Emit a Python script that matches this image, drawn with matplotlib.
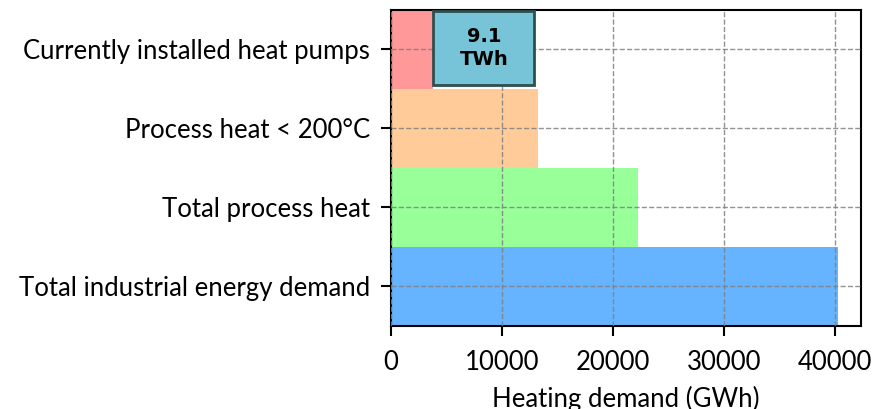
import matplotlib
matplotlib.use("Agg")
import matplotlib.pyplot as plt

# heating demand per category, GWh
categories = ["Total industrial energy demand", "Total process heat",
              "Process heat < 200°C", "Currently installed heat pumps"]
demand_gwh = [40300, 22200, 13270, 3800]
bar_colors = ["#66b3ff", "#99ff99", "#ffcc99", "#ff9999"]

# additional heat pump potential on top of the installed base
potential_gwh = 9100

plt.rcParams["font.family"] = ["Lato", "DejaVu Sans"]

fig = plt.figure(figsize=(8.73, 4.09), dpi=100)
ax = fig.add_axes([0.448, 0.203, 0.538, 0.7726])

ypos = range(len(categories))
ax.barh(ypos, demand_gwh, height=1.0, color=bar_colors, zorder=1)

# potential box next to the installed heat pumps
top = len(categories) - 1
ax.barh(top + 0.02, potential_gwh, left=demand_gwh[top], height=0.94,
        color="#77c4d8", edgecolor="#2f4f4f", linewidth=2, zorder=3)
ax.text(demand_gwh[top] + potential_gwh / 2, top + 0.02,
        f"{potential_gwh / 1000:.1f}\nTWh", ha="center", va="center",
        fontsize=14, fontweight="bold", family="DejaVu Sans", zorder=4,
        linespacing=1.25)

ax.set_ylim(-0.5, len(categories) - 0.5)
ax.set_yticks(list(ypos))
ax.set_yticklabels(categories)
ax.set_xlabel("Heating demand (GWh)", fontsize=18.5, labelpad=8)
ax.tick_params(axis="both", labelsize=18.5, length=7, width=1.5)
ax.tick_params(axis="y", pad=8)
ax.tick_params(axis="x", pad=10)
ax.grid(True, linestyle="--", color="gray", linewidth=1, alpha=0.85, zorder=2)
ax.set_axisbelow(False)
for s in ax.spines.values():
    s.set_linewidth(1.5)

fig.savefig("out.png", dpi=100)
